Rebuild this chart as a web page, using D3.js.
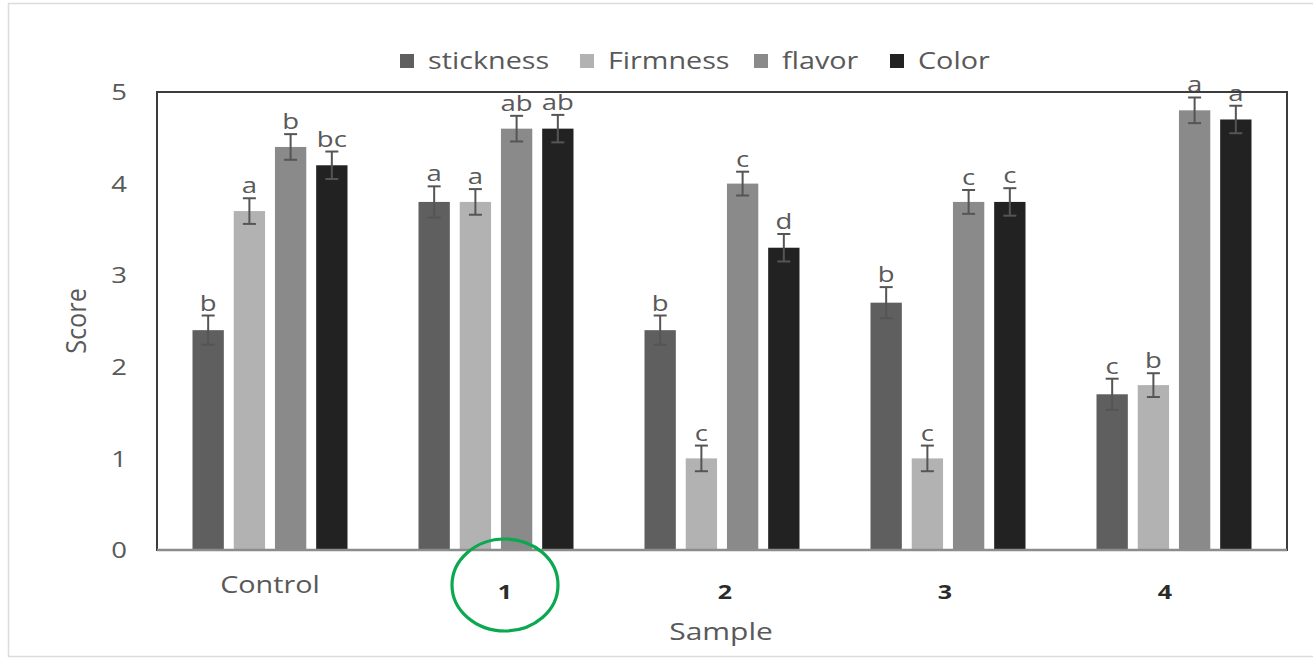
<!DOCTYPE html>
<html>
<head>
<meta charset="utf-8">
<script src="https://cdn.jsdelivr.net/npm/d3@7"></script>
<style>
  html, body { margin: 0; padding: 0; background: #fff; }
  svg { display: block; }
  text { font-family: "Open Sans", sans-serif; }
</style>
</head>
<body>
<svg id="chart" width="1313" height="660"></svg>
<script>
// Sensory scores per sample
const samples = ["Control", "1", "2", "3", "4"];
const attributes = ["stickness", "Firmness", "flavor", "Color"];
const colors = ["#5f5f5f", "#b2b2b2", "#8a8a8a", "#222222"];

const stickness = [2.4, 3.8, 2.4, 2.7, 1.7];
const firmness  = [3.7, 3.8, 1.0, 1.0, 1.8];
const flavor    = [4.4, 4.6, 4.0, 3.8, 4.8];
const color     = [4.2, 4.6, 3.3, 3.8, 4.7];

const sticknessErr = [0.16, 0.17, 0.16, 0.17, 0.17];
const firmnessErr  = [0.14, 0.14, 0.14, 0.14, 0.13];
const flavorErr    = [0.14, 0.14, 0.13, 0.13, 0.14];
const colorErr     = [0.15, 0.15, 0.15, 0.15, 0.15];

const sticknessLetters = ["b", "a", "b", "b", "c"];
const firmnessLetters  = ["a", "a", "c", "c", "b"];
const flavorLetters    = ["b", "ab", "c", "c", "a"];
const colorLetters     = ["bc", "ab", "d", "c", "a"];

const yTicks = [0, 1, 2, 3, 4, 5];

const seriesValues = [stickness, firmness, flavor, color];
const seriesErr = [sticknessErr, firmnessErr, flavorErr, colorErr];
const seriesLetters = [sticknessLetters, firmnessLetters, flavorLetters, colorLetters];

const svg = d3.select("#chart");
const textColor = "#595959";
const stretch = 1.25; // text is drawn slightly widened

// place a text at (x, y) with widened glyphs
function placeWide(sel, x, y) {
  return sel.attr("x", 0).attr("y", 0)
    .attr("transform", `translate(${x},${y}) scale(${stretch},1)`);
}

// outer light frame
svg.append("rect")
  .attr("x", 8.5).attr("y", 3.5)
  .attr("width", 1320).attr("height", 653)
  .attr("fill", "none").attr("stroke", "#dcdcdc").attr("stroke-width", 1.5);

const plot = { left: 157, right: 1287, top: 92, bottom: 550 };
const groupWidth = 155;

const x0 = d3.scaleBand().domain(samples)
  .range([plot.left, plot.right]).paddingInner(0).paddingOuter(0);
const x1 = d3.scaleBand().domain(attributes)
  .range([0, groupWidth]).paddingInner(0.24).paddingOuter(0);
const groupOffset = (x0.bandwidth() - groupWidth) / 2;

const y = d3.scaleLinear().domain([0, 5]).range([plot.bottom, plot.top]);

// y tick labels
const yAxis = d3.axisLeft(y).tickValues(yTicks).tickSize(0).tickPadding(0).tickFormat(d3.format("d"));
const yg = svg.append("g").attr("transform", `translate(119,0)`).call(yAxis);
yg.select(".domain").remove();
yg.selectAll("text")
  .attr("fill", textColor)
  .style("font-size", "22px")
  .style("font-family", "'Open Sans', sans-serif")
  .attr("text-anchor", "middle")
  .attr("dy", "0.35em")
  .attr("x", 0)
  .attr("transform", `scale(${stretch},1)`);

// axis titles
svg.append("text")
  .attr("transform", `translate(86,${(plot.top + plot.bottom) / 2}) rotate(-90) scale(1.1,1.15)`)
  .attr("text-anchor", "middle")
  .attr("fill", textColor).style("font-size", "23px")
  .text("Score");
placeWide(svg.append("text"), 721, 640)
  .attr("text-anchor", "middle")
  .attr("fill", textColor).style("font-size", "24px")
  .text("Sample");

// bars
const groups = svg.append("g").selectAll("g")
  .data(samples)
  .join("g")
  .attr("transform", d => `translate(${x0(d) + groupOffset},0)`);

attributes.forEach((attr, si) => {
  groups.append("rect")
    .attr("x", x1(attr))
    .attr("y", (d, i) => y(seriesValues[si][i]))
    .attr("width", x1.bandwidth())
    .attr("height", (d, i) => y(0) - y(seriesValues[si][i]))
    .attr("fill", colors[si]);
});

// error bars and significance letters
attributes.forEach((attr, si) => {
  const cx = x1(attr) + x1.bandwidth() / 2;
  groups.each(function (d, i) {
    const g = d3.select(this);
    const v = seriesValues[si][i], e = seriesErr[si][i];
    const hi = y(v + e), lo = y(v - e);
    g.append("line").attr("x1", cx).attr("x2", cx).attr("y1", hi).attr("y2", lo)
      .attr("stroke", "#555").attr("stroke-width", 2);
    [hi, lo].forEach(yy => g.append("line")
      .attr("x1", cx - 6.5).attr("x2", cx + 6.5).attr("y1", yy).attr("y2", yy)
      .attr("stroke", "#555").attr("stroke-width", 2));
    placeWide(g.append("text"), cx, hi - 5)
      .attr("text-anchor", "middle")
      .attr("fill", textColor).style("font-size", "22px")
      .text(seriesLetters[si][i]);
  });
});

// plot frame
svg.append("rect")
  .attr("x", plot.left).attr("y", plot.top)
  .attr("width", plot.right - plot.left).attr("height", plot.bottom - plot.top)
  .attr("fill", "none").attr("stroke", "#3c3c3c").attr("stroke-width", 2);
svg.append("line")
  .attr("x1", plot.left).attr("x2", plot.right)
  .attr("y1", plot.bottom).attr("y2", plot.bottom)
  .attr("stroke", "#8c8c8c").attr("stroke-width", 2.5);

// category labels: the control label sits under its group,
// the numbered sample labels are spread on their own point scale
placeWide(svg.append("text"), x0("Control") + x0.bandwidth() / 2, 593)
  .attr("text-anchor", "middle")
  .attr("fill", textColor).style("font-size", "23px")
  .text("Control");

const numbered = samples.slice(1);
const xNum = d3.scalePoint().domain(numbered).range([505, 1165]);
svg.append("g").selectAll("text")
  .data(numbered)
  .join("text")
  .each(function (d) { placeWide(d3.select(this), xNum(d), 599); })
  .attr("text-anchor", "middle")
  .attr("fill", "#2b2b2b")
  .style("font-size", "20px").style("font-weight", "700")
  .text(d => d);

// highlight ring around sample 1
svg.append("ellipse")
  .attr("cx", xNum("1")).attr("cy", 585)
  .attr("rx", 53).attr("ry", 46)
  .attr("fill", "none").attr("stroke", "#0aa84f").attr("stroke-width", 3.2);

// legend
const legendX = [400, 580, 754, 890];
const legend = svg.append("g");
attributes.forEach((attr, i) => {
  legend.append("rect")
    .attr("x", legendX[i]).attr("y", 54)
    .attr("width", 14).attr("height", 14)
    .attr("fill", colors[i]);
  placeWide(legend.append("text"), legendX[i] + 28, 69)
    .attr("fill", textColor).style("font-size", "23px")
    .text(attr);
});
</script>
</body>
</html>
